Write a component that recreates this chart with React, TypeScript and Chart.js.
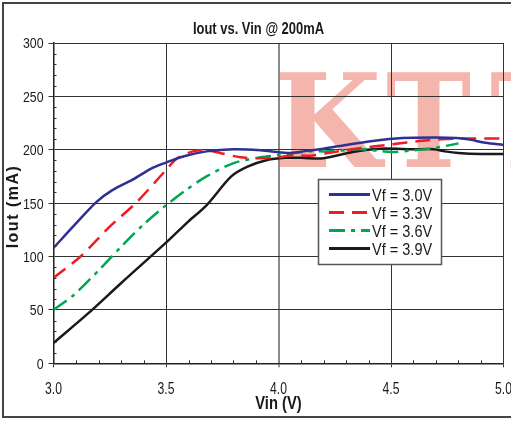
import React, { useEffect, useRef } from "react";
import { Chart, registerables } from "chart.js";

Chart.register(...registerables);

const TITLE = "Iout vs. Vin @ 200mA";
const X_TITLE = "Vin (V)";
const Y_TITLE = "Iout (mA)";
const WATERMARK = ["K", "T", "T"];

const SERIES_LABELS = ["Vf = 3.0V", "Vf = 3.3V", "Vf = 3.6V", "Vf = 3.9V"];

const vin30 = [3.0, 3.1, 3.19, 3.26, 3.36, 3.44, 3.5, 3.58, 3.68, 3.8, 3.92, 4.04, 4.11, 4.2, 4.3, 4.41, 4.55, 4.7, 4.79, 4.85, 4.92, 5.0];
const iout30 = [108, 131, 151, 162, 173, 183, 188, 194, 198.5, 200.5, 199.5, 197, 198.5, 201, 204.5, 208, 211, 211.5, 211, 209.5, 206.5, 204.5];

const vin33 = [3.0, 3.12, 3.25, 3.37, 3.5, 3.55, 3.62, 3.68, 3.74, 3.83, 3.92, 4.0, 4.07, 4.14, 4.22, 4.36, 4.5, 4.64, 4.8, 5.0];
const iout33 = [80, 100, 128, 151, 181, 192, 198.5, 199.5, 197, 193, 192, 193, 195, 194.5, 197, 201.5, 205, 208.5, 210.5, 210.5];

const vin36 = [3.0, 3.09, 3.21, 3.3, 3.4, 3.5, 3.59, 3.68, 3.8, 3.92, 4.0, 4.07, 4.14, 4.22, 4.36, 4.5, 4.6, 4.69, 4.8];
const iout36 = [50, 64, 89, 109, 130, 148, 162.5, 175, 187.5, 193, 195, 197, 198.5, 198.5, 200.5, 198, 199.5, 201.5, 206];

const vin39 = [3.0, 3.15, 3.3, 3.5, 3.6, 3.68, 3.79, 3.86, 3.95, 4.04, 4.1, 4.2, 4.33, 4.45, 4.6, 4.69, 4.74, 4.8, 4.9, 5.0];
const iout39 = [19, 46, 75, 113, 133, 148, 175, 184, 190.5, 192.5, 192.5, 192, 198, 201, 200.5, 200.5, 198.5, 197, 196, 196];

const X_MIN = 3.0;
const X_MAX = 5.0;
const X_STEP = 0.5;
const X_MINOR = 0.1;
const Y_MIN = 0;
const Y_MAX = 300;
const Y_STEP = 50;
const Y_MINOR = 10;

const COLORS = ["#2e3192", "#ed1c24", "#00a651", "#1a1a1a"];
const DASHES: number[][] = [[], [15, 8], [16, 6, 4, 6], []];

const SANS = '"Liberation Sans", Arial, sans-serif';

const toPoints = (xs: number[], ys: number[]) => xs.map((x, i) => ({ x, y: ys[i] }));

// draw horizontally condensed text (emulating Arial Narrow)
function narrowText(
  ctx: CanvasRenderingContext2D,
  text: string,
  x: number,
  y: number,
  font: string,
  sx: number,
  align: "left" | "center" | "right"
) {
  ctx.save();
  ctx.font = font;
  ctx.textAlign = align;
  ctx.textBaseline = "alphabetic";
  ctx.translate(x, y);
  ctx.scale(sx, 1);
  ctx.fillText(text, 0, 0);
  ctx.restore();
}

const decorPlugin = {
  id: "decor",
  beforeDraw(chart: any) {
    const { ctx, width, height } = chart;
    ctx.save();
    ctx.fillStyle = "#ffffff";
    ctx.fillRect(0, 0, width, height);
    // watermark
    ctx.fillStyle = "rgb(244,181,173)";
    ctx.font = 'bold 130px "DejaVu Serif", "Liberation Serif", serif';
    ctx.textBaseline = "alphabetic";
    ctx.textAlign = "left";
    const xs = [274, 386, 490];
    const sx = [0.95, 0.88, 0.88];
    WATERMARK.forEach((ch, i) => {
      ctx.save();
      ctx.translate(xs[i], 167);
      ctx.scale(sx[i], 1);
      ctx.fillText(ch, 0, 0);
      ctx.restore();
    });
    ctx.restore();
  },
  afterDatasetsDraw(chart: any) {
    const { ctx } = chart;
    const xs = chart.scales.x;
    const ys = chart.scales.y;
    const area = chart.chartArea;
    ctx.save();
    // minor ticks (inside)
    ctx.strokeStyle = "#333";
    ctx.lineWidth = 1;
    ctx.beginPath();
    for (let v = Y_MIN; v <= Y_MAX + 1e-6; v += Y_MINOR) {
      if (Math.abs(v % Y_STEP) < 1e-6) continue;
      const py = Math.round(ys.getPixelForValue(v)) + 0.5;
      ctx.moveTo(area.left, py);
      ctx.lineTo(area.left + 3, py);
    }
    for (let k = 0; k <= Math.round((X_MAX - X_MIN) / X_MINOR); k++) {
      if (k % 5 === 0) continue;
      const v = X_MIN + k * X_MINOR;
      const px = Math.round(xs.getPixelForValue(v)) + 0.5;
      ctx.moveTo(px, area.bottom);
      ctx.lineTo(px, area.bottom - 3);
    }
    ctx.stroke();

    // tick labels
    ctx.fillStyle = "#1a1a1a";
    ys.ticks.forEach((t: any) => {
      const py = ys.getPixelForValue(t.value);
      narrowText(ctx, String(t.value), 43.5, py + 5.4, `15px ${SANS}`, 0.82, "right");
    });
    xs.ticks.forEach((t: any) => {
      const px = xs.getPixelForValue(t.value);
      narrowText(ctx, Number(t.value).toFixed(1), px, 393.5, `16px ${SANS}`, 0.76, "center");
    });

    // legend
    const lx = 318.5, ly = 179.5, lw = 123, lh = 85;
    ctx.fillStyle = "#ffffff";
    ctx.fillRect(lx, ly, lw, lh);
    ctx.strokeStyle = "#555";
    ctx.lineWidth = 1.5;
    ctx.strokeRect(lx, ly, lw, lh);
    chart.data.datasets.forEach((ds: any, i: number) => {
      const cy = 194.5 + i * 18;
      ctx.strokeStyle = ds.borderColor;
      ctx.lineWidth = 3;
      ctx.setLineDash(ds.borderDash || []);
      ctx.beginPath();
      ctx.moveTo(329, cy);
      ctx.lineTo(370, cy);
      ctx.stroke();
      ctx.setLineDash([]);
      ctx.fillStyle = "#1a1a1a";
      narrowText(ctx, ds.label, 372, cy + 6, `16.5px ${SANS}`, 0.88, "left");
    });
    ctx.restore();
  },
  afterDraw(chart: any) {
    const { ctx } = chart;
    ctx.save();
    // frame
    ctx.strokeStyle = "#444";
    ctx.lineWidth = 2;
    ctx.strokeRect(3, 3, 530, 414);
    // title
    ctx.fillStyle = "#1a1a1a";
    narrowText(ctx, TITLE, 258.5, 33.5, `bold 16px ${SANS}`, 0.81, "center");
    // x title
    narrowText(ctx, X_TITLE, 278.5, 409, `bold 18px ${SANS}`, 0.82, "center");
    // y title
    ctx.translate(18, 206.5);
    ctx.rotate(-Math.PI / 2);
    ctx.font = `bold 16px ${SANS}`;
    ctx.textAlign = "center";
    ctx.textBaseline = "alphabetic";
    (ctx as any).letterSpacing = "1.5px";
    ctx.fillText(Y_TITLE, 0, 0);
    ctx.restore();
  },
};

export default function App() {
  const ref = useRef<HTMLCanvasElement | null>(null);
  useEffect(() => {
    if (!ref.current) return;
    const seriesX = [vin30, vin33, vin36, vin39];
    const seriesY = [iout30, iout33, iout36, iout39];
    const chart = new Chart(ref.current, {
      type: "line",
      data: {
        datasets: SERIES_LABELS.map((label, i) => ({
          label,
          data: toPoints(seriesX[i], seriesY[i]),
          borderColor: COLORS[i],
          backgroundColor: COLORS[i],
          borderWidth: 2.5,
          borderDash: DASHES[i],
          pointRadius: 0,
          tension: 0.3,
          fill: false,
        })),
      },
      options: {
        animation: false,
        responsive: false,
        devicePixelRatio: 1,
        layout: { padding: { left: 0, top: 43, right: 7.5, bottom: 0 } },
        plugins: { legend: { display: false }, title: { display: false }, tooltip: { enabled: false } },
        scales: {
          x: {
            type: "linear",
            min: X_MIN,
            max: X_MAX,
            afterFit: (s: any) => { s.height = 61.7; s.paddingLeft = 0; s.paddingRight = 0; },
            ticks: { stepSize: X_STEP, display: false, autoSkip: false },
            grid: {
              color: (c: any) => (c.tick && Math.abs(c.tick.value - 4) < 1e-6 ? "#8a8a8a" : "#333"),
              lineWidth: (c: any) => (c.tick && Math.abs(c.tick.value - 4) < 1e-6 ? 2 : 1),
              tickColor: "#333",
              tickWidth: 1,
              tickLength: 4,
            },
            border: { color: "#222", width: 1.5 },
          },
          y: {
            type: "linear",
            min: Y_MIN,
            max: Y_MAX,
            afterFit: (s: any) => { s.width = 53.5; s.paddingTop = 0; s.paddingBottom = 0; },
            ticks: { stepSize: Y_STEP, display: false },
            grid: {
              color: "#333",
              lineWidth: 1,
              tickColor: "#333",
              tickLength: 5,
            },
            border: { color: "#222", width: 1.5 },
          },
        },
      },
      plugins: [decorPlugin],
    } as any);
    return () => chart.destroy();
  }, []);
  return (
    <div style={{ position: "fixed", left: 0, top: 0, width: 511, height: 425, background: "#fff" }}>
      <canvas ref={ref} width={511} height={425} style={{ width: 511, height: 425, display: "block" }} />
    </div>
  );
}
